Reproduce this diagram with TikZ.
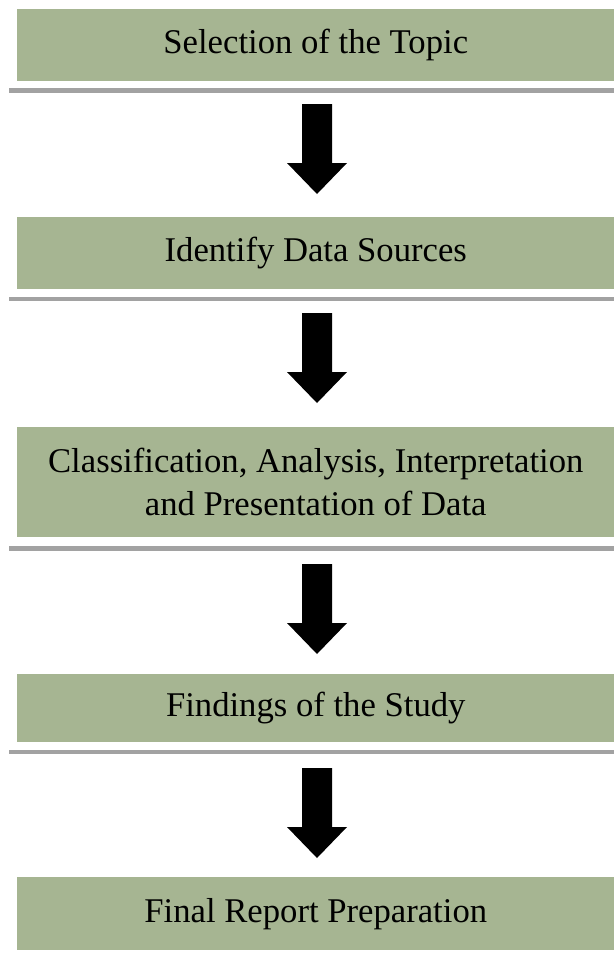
\documentclass[tikz,border=0pt]{standalone}
\usepackage{fontspec}
\setmainfont{Liberation Serif}
\definecolor{boxgreen}{HTML}{A6B592}
\definecolor{rulegray}{HTML}{A2A2A2}
\begin{document}
\begin{tikzpicture}[x=0.75pt,y=-0.75pt,
  stepbox/.style={anchor=north west,fill=boxgreen,inner sep=0pt,minimum width=447.75pt,
    align=center,font=\fontsize{26}{32.5}\selectfont},
  sepline/.style={draw=rulegray,line width=3.4pt},
  downarrow/.pic={\fill[black] (-15,-45) -- (15,-45) -- (15,14) -- (30,14) -- (0,45)
    -- (-30,14) -- (-15,14) -- cycle;}]
\useasboundingbox (0,0) rectangle (614,958);
\node[stepbox,minimum height=54pt] (b1) at (17,9) {Selection of the Topic};
\node[stepbox,minimum height=54pt] (b2) at (17,217) {Identify Data Sources};
\node[stepbox,minimum height=82.5pt] (b3) at (17,427) {Classification, Analysis, Interpretation\\and Presentation of Data};
\node[stepbox,minimum height=51pt] (b4) at (17,674) {Findings of the Study};
\node[stepbox,minimum height=54.75pt] (b5) at (17,877) {Final Report Preparation};
\coordinate (l1a) at (9,90.5); \coordinate (l1b) at (614,90.5);
\coordinate (l2a) at (9,299); \coordinate (l2b) at (614,299);
\coordinate (l3a) at (9,548.5); \coordinate (l3b) at (614,548.5);
\coordinate (l4a) at (9,752); \coordinate (l4b) at (614,752);
\draw[sepline] (l1a) -- (l1b);
\draw[sepline] (l2a) -- (l2b);
\draw[sepline] (l3a) -- (l3b);
\draw[sepline] (l4a) -- (l4b);
\pic (a1) at (317,149) {downarrow};
\pic (a2) at (317,358) {downarrow};
\pic (a3) at (317,609) {downarrow};
\pic (a4) at (317,813) {downarrow};
\end{tikzpicture}
\end{document}
